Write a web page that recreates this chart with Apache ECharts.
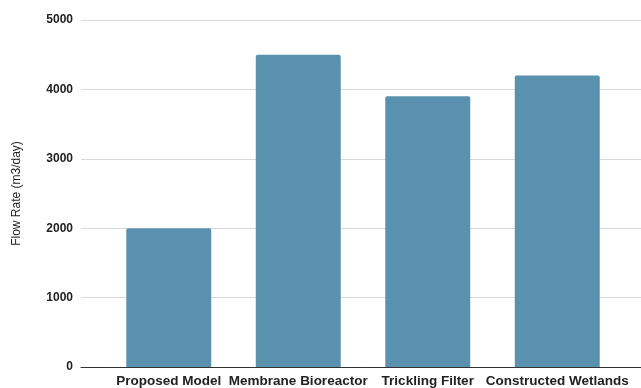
<!DOCTYPE html>
<html>
<head>
<meta charset="utf-8">
<script src="https://cdn.jsdelivr.net/npm/echarts@6/dist/echarts.min.js"></script>
<style>
  html, body { margin: 0; padding: 0; background: #fff; }
  #chart { width: 641px; height: 388px; }
</style>
</head>
<body>
<div id="chart"></div>
<script>
const categories = ['Proposed Model', 'Membrane Bioreactor', 'Trickling Filter', 'Constructed Wetlands'];
const flowRates = [2000, 4500, 3900, 4200];
const yTicks = [0, 1000, 2000, 3000, 4000, 5000];
const yTitle = 'Flow Rate (m3/day)';

const yMin = yTicks[0];
const yMax = yTicks[yTicks.length - 1];
const yStep = yTicks[1] - yTicks[0];

const chart = echarts.init(document.getElementById('chart'), null, { renderer: 'canvas' });
chart.setOption({
  animation: false,
  textStyle: { fontFamily: 'Liberation Sans, Arial, sans-serif' },
  grid: [
    // wide grid carrying the gridlines and the y-axis labels
    { left: 81, right: 0, top: 20, bottom: 21, containLabel: false, outerBoundsMode: 'none' },
    // inner grid where the bars live
    { left: 104, right: 19, top: 20, bottom: 21, containLabel: false, outerBoundsMode: 'none' }
  ],
  xAxis: [
    {
      gridIndex: 0, type: 'value', min: 0, max: 1,
      axisLine: { show: true, lineStyle: { color: '#333', width: 1 } },
      axisTick: { show: false }, axisLabel: { show: false }, splitLine: { show: false }
    },
    {
      gridIndex: 1, type: 'category', data: categories,
      axisLine: { show: false }, axisTick: { show: false },
      axisLabel: {
        interval: 0, margin: 7, color: '#222', fontWeight: 'bold', fontSize: 13.5
      }
    }
  ],
  yAxis: [
    {
      gridIndex: 0, type: 'value', min: yMin, max: yMax, interval: yStep,
      name: yTitle, nameLocation: 'middle', nameGap: 58, nameRotate: 90,
      nameTextStyle: { color: '#222', fontSize: 12 },
      axisLine: { show: false }, axisTick: { show: false },
      axisLabel: {
        color: '#222', fontWeight: 'bold', fontSize: 12, margin: 8,
        formatter: v => String(v)
      },
      splitLine: { lineStyle: { color: '#d9d9d9', width: 1 } }
    },
    {
      gridIndex: 1, type: 'value', min: yMin, max: yMax, interval: yStep,
      show: false, splitLine: { show: false }
    }
  ],
  series: [
    {
      type: 'bar', xAxisIndex: 1, yAxisIndex: 1,
      data: flowRates, barWidth: '65.6%',
      itemStyle: { color: '#5a91ae', borderRadius: [2, 2, 0, 0] }
    }
  ]
});
</script>
</body>
</html>
